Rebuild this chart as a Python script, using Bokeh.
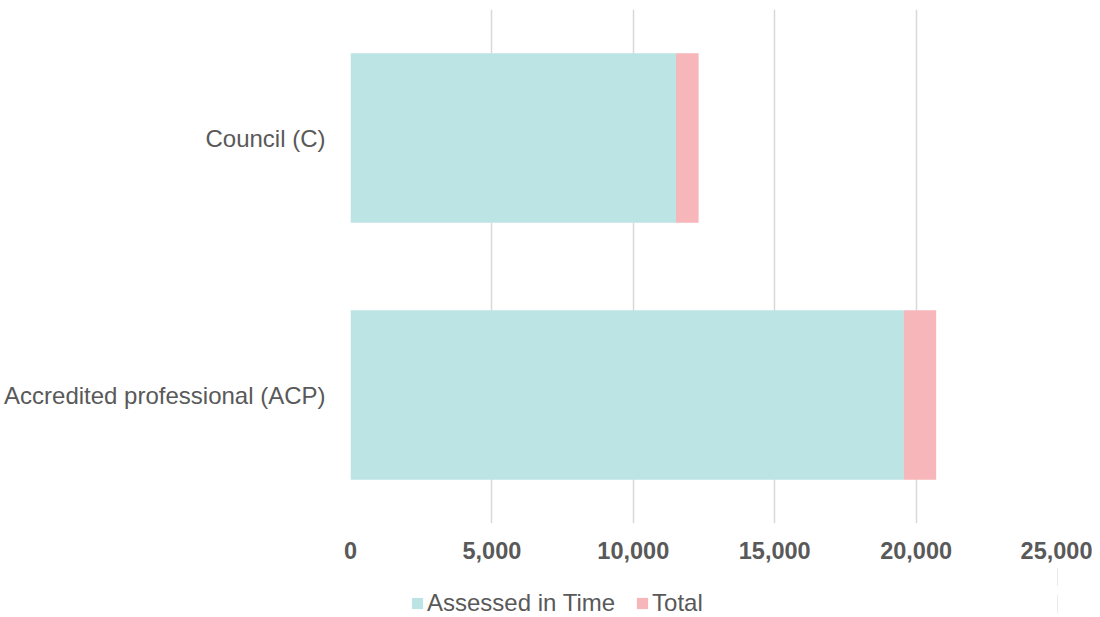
from bokeh.plotting import figure
from bokeh.layouts import column
from bokeh.models import FactorRange, Range1d, Legend, LegendItem, NumeralTickFormatter, FixedTicker
from bokeh.embed import file_html
from bokeh.resources import INLINE

categories = ["Accredited professional (ACP)", "Council (C)"]
assessed_in_time = [19570, 11510]
total = [1140, 800]
x_ticks = [0, 5000, 10000, 15000, 20000, 25000]
series_names = ["Assessed in Time", "Total"]

TEAL = "#BDE4E4"
PINK = "#F7B6BA"
TEXT = "#595959"
FONT = "Liberation Sans"

p = figure(width=1092, height=563, y_range=FactorRange(*categories),
           x_range=Range1d(0, 25000), output_backend="svg", toolbar_location=None,
           min_border_left=350, min_border_right=35, min_border_top=9, min_border_bottom=40)

data = dict(cat=categories, assessed=assessed_in_time, total=total)
rs = p.hbar_stack(["assessed", "total"], y="cat", height=0.66, color=[TEAL, PINK],
                  line_color=None, source=data)

p.outline_line_color = None
p.background_fill_color = "white"
p.border_fill_color = "white"

p.ygrid.grid_line_color = None
p.xgrid.grid_line_color = "#D9D9D9"
p.xgrid.grid_line_width = 1.5
p.xgrid.level = "underlay"

p.xaxis.ticker = FixedTicker(ticks=x_ticks)
p.xaxis.formatter = NumeralTickFormatter(format="0,0")
p.xaxis.axis_line_color = None
p.xaxis.major_tick_line_color = None
p.xaxis.minor_tick_line_color = None
p.xaxis.major_label_text_font = FONT
p.xaxis.major_label_text_font_size = "23.5px"
p.xaxis.major_label_text_font_style = "bold"
p.xaxis.major_label_text_color = TEXT
p.xaxis.major_label_standoff = 12

p.yaxis.axis_line_color = None
p.yaxis.major_tick_line_color = None
p.yaxis.minor_tick_line_color = None
p.yaxis.major_label_text_font = FONT
p.yaxis.major_label_text_font_size = "24px"
p.yaxis.major_label_text_color = TEXT
p.yaxis.major_label_standoff = 19

# legend strip below the chart (its bars fall outside its visible x range)
lf = figure(width=1092, height=54, x_range=Range1d(-2, -1), y_range=FactorRange(*categories),
            output_backend="svg", toolbar_location=None,
            x_axis_location=None, y_axis_location=None, min_border=0)
lf.outline_line_color = None
lf.grid.grid_line_color = None
lrs = lf.hbar_stack(["assessed", "total"], y="cat", height=0.66, color=[TEAL, PINK],
                    line_color=None, source=data)

legend = Legend(items=[LegendItem(label=series_names[0], renderers=[lrs[0]]),
                       LegendItem(label=series_names[1], renderers=[lrs[1]])],
                orientation="horizontal", location=(60, 0),
                label_text_font=FONT, label_text_font_size="24px", label_text_color=TEXT,
                glyph_width=14, glyph_height=14, label_standoff=3, spacing=20,
                padding=0, margin=0, border_line_color=None, background_fill_alpha=0)
lf.add_layout(legend, "center")

layout = column(p, lf, spacing=0)
open("out.html", "w").write(file_html(layout, INLINE))
